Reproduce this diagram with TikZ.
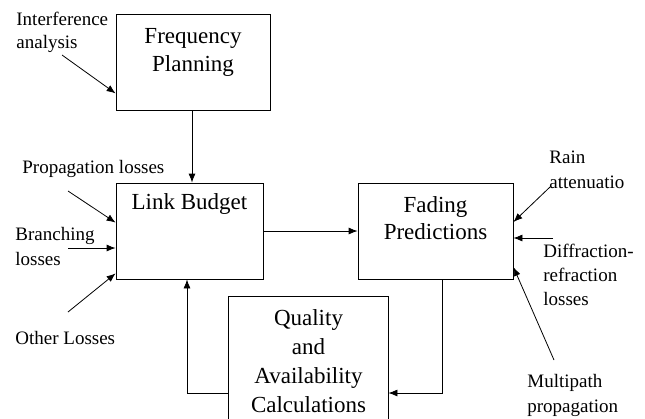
\documentclass[tikz,border=0pt]{standalone}
\usepackage{fontspec}
\setmainfont{Liberation Serif}
\usetikzlibrary{arrows.meta}

\begin{document}
\begin{tikzpicture}[x=1pt, y=-1pt, line width=0.8pt,
    >={Latex[length=9pt,width=7pt]},
    box/.style={draw, minimum width=#1, minimum height=96pt, inner sep=0pt},
    title/.style={align=center, anchor=base, inner sep=0pt,
      font=\fontsize{23}{28}\selectfont},
    note/.style={align=left, anchor=base west, inner sep=0pt,
      font=\fontsize{19}{24.5}\selectfont}]
    \useasboundingbox (0,0) rectangle (645,418);
    \clip (0,0) rectangle (645,418);

    % blocks
    \node[box=154pt] at (193,62) (FP) {};
    \node[box=147pt] at (189.5,231) (LB) {};
    \node[box=155pt] at (435.5,231) (FD) {};
    \node[box=160pt, minimum height=140pt] at (308,366) (QA) {};

    \node[title] at (193,71) (FPtxt) {Frequency\\Planning};
    \node[title] at (189.5,209) (LBtxt) {Link Budget};
    \node[title, font=\fontsize{23}{27}\selectfont] at (435.5,239) (FDtxt)
        {Fading\\Predictions};
    \node[title, font=\fontsize{23}{29}\selectfont] at (308.5,412) (QAtxt)
        {Quality\\and\\Availability\\Calculations};

    % inputs
    \node[note, font=\fontsize{19}{23}\selectfont] at (16,48) (IA)
        {Interference\\analysis};
    \node[note] at (22,173) (PL) {Propagation losses};
    \node[note] at (15,265) (BL) {Branching\\losses};
    \node[note] at (15,344) (OL) {Other Losses};
    \node[note] at (549,188) (RA) {Rain\\attenuatio};
    \node[note, font=\fontsize{19}{24}\selectfont] at (543,305) (DR)
        {Diffraction-\\refraction\\losses};
    \node[note] at (527,412) (MP) {Multipath\\propagation};

    \coordinate (IAend) at (62,55);
    \coordinate (PLend) at (68,191);
    \coordinate (BLend) at (68,248);
    \coordinate (OLend) at (68,312);
    \coordinate (RAend) at (550,187);
    \coordinate (DRend) at (553,238);
    \coordinate (MPend) at (554,360);

    \draw[->] (IAend) -- ([yshift=17pt]FP.south west);
    \draw[->] (PLend) -- ([yshift=-40pt]LB.north west);
    \draw[->] (BLend) -- ([yshift=-17pt]LB.west);
    \draw[->] (OLend) -- ([yshift=6pt]LB.south west);
    \draw[->] (RAend) -- ([yshift=9pt]FD.east);
    \draw[->] (DRend) -- ([yshift=-7pt]FD.east);
    \draw[->] (MPend) -- ([yshift=-36pt]FD.east);

    % flow
    \draw[->] (FP.south -| 192,0) -- (LB.north -| 192,0);
    \draw[->] (LB.east) -- (FD.west);
    \draw[->] (FD.south -| 442,0) -- (442,393) -- (QA.east |- 0,393);
    \draw[->] (QA.west |- 0,393) -- (187,393) -- (LB.south -| 187,0);
\end{tikzpicture}
\end{document}
